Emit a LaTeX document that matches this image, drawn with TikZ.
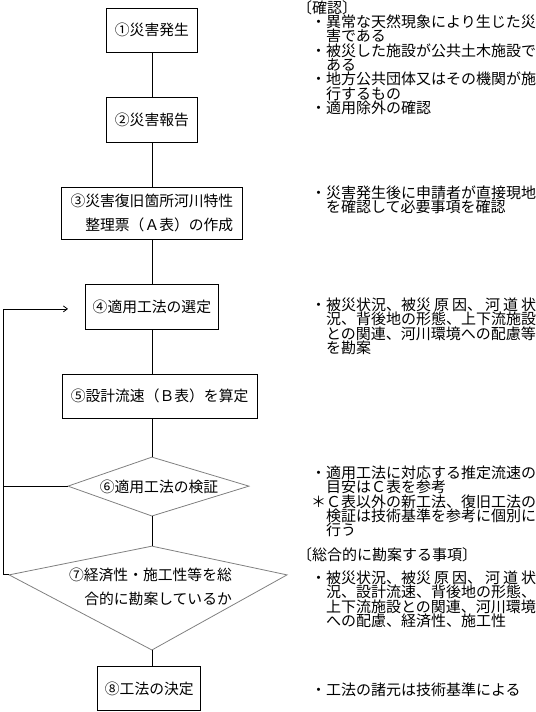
\documentclass[tikz,border=0pt]{standalone}
\usepackage{fontspec}
\setmainfont{Noto Sans CJK JP}
\setsansfont{Noto Sans CJK JP}
\usepackage{tikz}
\usetikzlibrary{arrows.meta, positioning, calc}
\setlength{\lineskiplimit}{-10pt}

\begin{document}
\begin{tikzpicture}[
  font=\sffamily,
  boite/.style={
    draw=black,
    line width=0.8pt,
    font=\sffamily\fontsize{14.8}{24}\selectfont,
    inner sep=0pt,
    align=right
  },
  texte/.style={
    font=\sffamily\fontsize{14.8}{24}\selectfont,
    inner sep=0pt,
    align=right
  },
  losange/.style={
    draw=black!50,
    line width=0.8pt,
    line join=miter
  },
  note/.style={
    font=\sffamily\fontsize{15}{14.3}\selectfont,
    anchor=north west,
    inner sep=0pt,
    align=left
  },
  lien/.style={
    draw=black,
    line width=0.8pt
  },
  retour/.style={
    -{Straight Barb[length=4pt, width=6pt]},
    draw=black,
    line width=0.8pt
  }
]
\useasboundingbox (0,0) rectangle (18.81,25.03);

% Etapes
\node[boite, minimum width=3.20cm, minimum height=1.55cm] (s1) at (5.34, 23.97) {①災害発生};
\node[boite, minimum width=3.20cm, minimum height=1.58cm] (s2) at (5.34, 20.83) {②災害報告};
\node[boite, minimum width=6.36cm, minimum height=1.83cm] (s3) at (5.34, 17.54)
  {③災害復旧箇所河川特性\\整理票（Ａ表）の作成};
\node[boite, minimum width=4.71cm, minimum height=1.55cm] (s4) at (5.34, 14.24) {④適用工法の選定};
\node[boite, minimum width=6.85cm, minimum height=1.55cm] (s5) at (5.61, 11.11) {⑤設計流速（Ｂ表）を算定};
\node[boite, minimum width=3.62cm, minimum height=1.58cm] (s8) at (5.25, 0.83) {⑧工法の決定};

% Losanges
\coordinate (d6t) at (5.34, 8.96);
\coordinate (d6l) at (2.39, 7.94);
\coordinate (d6r) at (8.75, 7.94);
\coordinate (d6b) at (5.34, 6.89);
\draw[losange] (d6t) -- (d6r) -- (d6b) -- (d6l) -- cycle;
\node[texte] (s6) at (5.59, 7.91) {⑥適用工法の検証};

\coordinate (d7t) at (5.34, 5.83);
\coordinate (d7l) at (0.32, 4.82);
\coordinate (d7r) at (10.09, 4.82);
\coordinate (d7b) at (5.34, 2.18);
\draw[losange] (d7t) -- (d7r) -- (d7b) -- (d7l) -- cycle;
\node[texte] (s7) at (5.29, 4.39) {⑦経済性・施工性等を総\\合的に勘案しているか};

% Liaisons
\draw[lien] (s1) -- (s2);
\draw[lien] (s2) -- (s3);
\draw[lien] (s3) -- (s4);
\draw[lien] (s4.south) -- (s4.south |- s5.north);
\draw[lien] (d6t |- s5.south) -- (d6t);
\draw[lien] (d6b) -- (d7t);
\draw[lien] (d7b) -- (d7b |- s8.north);

% Retour vers l'étape 4
\coordinate (coin) at (0.11, 4.82);
\coordinate (in4) at (2.39, 14.17);
\draw[lien] (d6l) -- (d6l -| coin);
\draw[lien] (d7l) -- (coin);
\draw[retour] (coin) |- (in4);

% Notes
\node[note] (n1t) at (10.44, 25.03) {〔確認〕};
\node[note] (n1) at (10.93, 24.51)
  {・異常な天然現象により生じた災\\\phantom{・}害である\\・被災した施設が公共土木施設で\\\phantom{・}ある\\・地方公共団体又はその機関が施\\\phantom{・}行するもの\\・適用除外の確認};
\node[note] (n3) at (10.93, 18.50)
  {・災害発生後に申請者が直接現地\\\phantom{・}を確認して必要事項を確認};
\node[note] (n4) at (10.93, 14.56)
  {・被災状況、被災\hspace{.2em}原\hspace{.2em}因、\hspace{.2em}河\hspace{.2em}道\hspace{.2em}状\\\phantom{・}況、背後地の形態、上下流施設\\\phantom{・}との関連、河川環境への配慮等\\\phantom{・}を勘案};
\node[note] (n6) at (10.93, 8.66)
  {・適用工法に対応する推定流速の\\\phantom{・}目安はＣ表を参考\\＊Ｃ表以外の新工法、復旧工法の\\\phantom{・}検証は技術基準を参考に個別に\\\phantom{・}行う};
\node[note] (n7t) at (10.44, 5.78) {〔総合的に勘案する事項〕};
\node[note] (n7) at (10.93, 4.97)
  {・被災状況、被災\hspace{.2em}原\hspace{.2em}因、\hspace{.2em}河\hspace{.2em}道\hspace{.2em}状\\\phantom{・}況、設計流速、背後地の形態、\\\phantom{・}上下流施設との関連、河川環境\\\phantom{・}への配慮、経済性、施工性};
\node[note] (n8) at (10.93, 1.03) {・工法の諸元は技術基準による};

\end{tikzpicture}
\end{document}
